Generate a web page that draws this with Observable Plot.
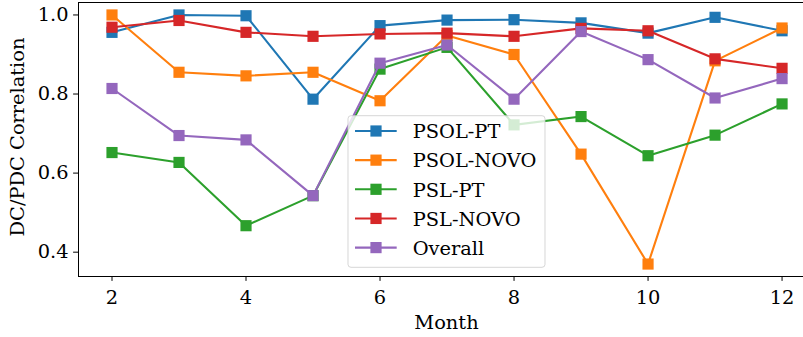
<!DOCTYPE html>
<html>
<head>
<meta charset="utf-8">
<script src="https://cdn.jsdelivr.net/npm/d3@7"></script>
<script src="https://cdn.jsdelivr.net/npm/@observablehq/plot@0.6"></script>
<style>
  html, body { margin: 0; padding: 0; background: #fff; }
  #chart { width: 803px; height: 337px; overflow: hidden; }
</style>
</head>
<body>
<div id="chart"></div>
<script>
const months = [2, 3, 4, 5, 6, 7, 8, 9, 10, 11, 12];
const seriesNames = ["PSOL-PT", "PSOL-NOVO", "PSL-PT", "PSL-NOVO", "Overall"];
const colors = ["#1f77b4", "#ff7f0e", "#2ca02c", "#d62728", "#9467bd"];
const psolPT   = [0.956, 1.000, 0.998, 0.787, 0.973, 0.987, 0.988, 0.980, 0.954, 0.994, 0.960];
const psolNOVO = [1.000, 0.855, 0.846, 0.855, 0.783, 0.948, 0.900, 0.648, 0.370, 0.884, 0.967];
const pslPT    = [0.652, 0.627, 0.467, 0.543, 0.863, 0.918, 0.722, 0.743, 0.644, 0.696, 0.775];
const pslNOVO  = [0.969, 0.986, 0.956, 0.946, 0.952, 0.954, 0.946, 0.966, 0.960, 0.889, 0.865];
const overall  = [0.814, 0.695, 0.684, 0.543, 0.878, 0.924, 0.787, 0.958, 0.887, 0.790, 0.839];
const yTicks = [0.4, 0.6, 0.8, 1.0];
const xTicks = [2, 4, 6, 8, 10, 12];
const xLabel = "Month";
const yLabel = "DC/PDC Correlation";

const allValues = [psolPT, psolNOVO, pslPT, pslNOVO, overall];
const series = seriesNames.map((name, i) => ({
  name, color: colors[i],
  data: months.map((m, j) => ({month: m, value: allValues[i][j]}))
}));

const FONT = "DejaVu Serif";
const FS = 19.4;
const xDomain = [1.5, 12.32];
const yDomain = [0.3385, 1.0315];

const marks = [];
for (const s of series) {
  marks.push(Plot.line(s.data, {x: "month", y: "value", stroke: s.color, strokeWidth: 2.1}));
  marks.push(Plot.dot(s.data, {x: "month", y: "value", symbol: "square", r: 6.3, fill: s.color, stroke: "none"}));
}

const chart = Plot.plot({
  width: 803,
  height: 337,
  marginLeft: 78,
  marginRight: 0,
  marginTop: 2,
  marginBottom: 61,
  style: {fontFamily: FONT, fontSize: FS + "px", background: "white", color: "black", overflow: "visible"},
  x: {domain: xDomain, label: null},
  y: {domain: yDomain, label: null},
  marks: [
    Plot.axisX({ticks: xTicks, tickSize: 4.9, tickPadding: 9, tickFormat: d => String(d), fontSize: FS, label: null}),
    Plot.axisY({ticks: yTicks, tickSize: 4.9, tickPadding: 5, tickFormat: d3.format(".1f"), fontSize: FS, label: null}),
    ...marks,
    Plot.ruleX([xDomain[0]], {stroke: "black", strokeWidth: 1}),
    Plot.ruleY(yDomain, {stroke: "black", strokeWidth: 1})
  ]
});

document.getElementById("chart").appendChild(chart);

// Axis titles and legend (matplotlib-like)
const svg = d3.select(chart);
svg.append("text")
  .attr("x", 446.5).attr("y", 329)
  .attr("text-anchor", "middle")
  .attr("font-family", FONT).attr("font-size", FS)
  .attr("fill", "black")
  .text(xLabel);
svg.append("text")
  .attr("transform", "translate(24,137) rotate(-90)")
  .attr("text-anchor", "middle")
  .attr("font-family", FONT).attr("font-size", FS)
  .attr("fill", "black")
  .text(yLabel);

const lg = svg.append("g");
lg.append("rect")
  .attr("x", 348).attr("y", 115.7).attr("width", 197).attr("height", 151.6)
  .attr("rx", 3).attr("fill", "white").attr("fill-opacity", 0.8)
  .attr("stroke", "#cccccc").attr("stroke-opacity", 0.8).attr("stroke-width", 1);
series.forEach((s, i) => {
  const cy = 131 + i * 29.15;
  lg.append("line").attr("x1", 355).attr("x2", 396.7).attr("y1", cy).attr("y2", cy)
    .attr("stroke", s.color).attr("stroke-width", 2.1);
  lg.append("rect").attr("x", 376 - 5.6).attr("y", cy - 5.6).attr("width", 11.2).attr("height", 11.2)
    .attr("fill", s.color);
  lg.append("text").attr("x", 412.7).attr("y", cy + 7.3)
    .attr("text-anchor", "start")
    .attr("font-family", FONT).attr("font-size", FS).attr("fill", "black")
    .text(s.name);
});
</script>
</body>
</html>
